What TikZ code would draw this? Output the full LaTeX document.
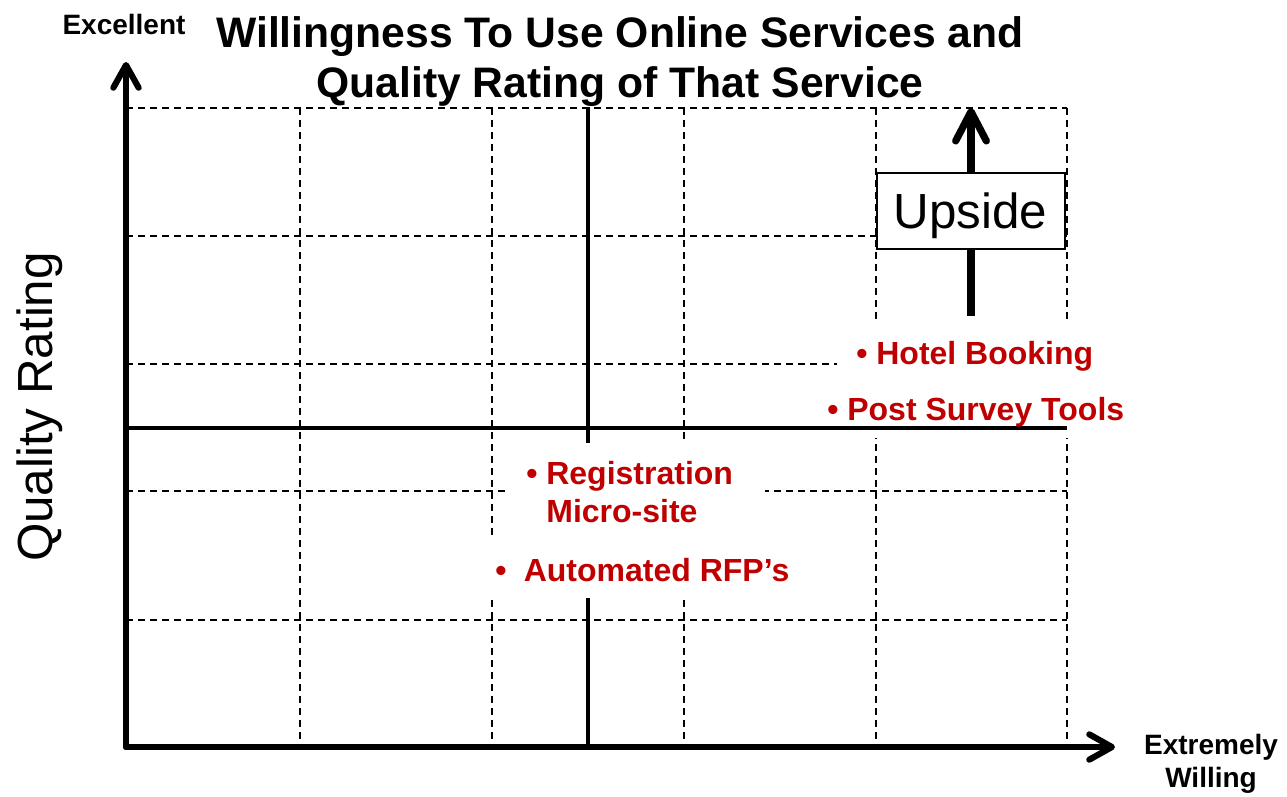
\documentclass[tikz,border=0pt]{standalone}
\usepackage{fontspec}
\setmainfont{Liberation Sans}
\usetikzlibrary{arrows.meta}
\definecolor{labelred}{RGB}{192,0,0}
\begin{document}
\begin{tikzpicture}[x=0.75pt,y=-0.75pt,
  gridline/.style={black, line width=1.1pt, dash pattern=on 5pt off 4pt},
  axisline/.style={line width=4.6pt, line cap=round, line join=round},
  axisarrow/.style={axisline, -{Straight Barb[length=17pt,width=19pt,round]}},
  divider/.style={line width=3.6pt},
  uparrow/.style={line width=5.4pt, -{Straight Barb[length=22pt,width=23pt,round]}},
  whitebg/.style={fill=white},
  itemlabel/.style={text=labelred, font=\fontsize{24}{29}\selectfont\bfseries, inner sep=0pt, anchor=base west},
  axislabel/.style={font=\fontsize{21}{24.75}\selectfont\bfseries, inner sep=0pt, anchor=base},
]
\useasboundingbox (0,0) rectangle (1287,796);

% dashed grid
\foreach \gx in {300,492,684,876,1067}
  \draw[gridline] (\gx,108) -- (\gx,747);
\foreach \gy in {108,236,364,491,620}
  \draw[gridline] (126,\gy) -- (1067,\gy);

% axes
\coordinate (origin) at (126,747);
\coordinate (ytip) at (126,62);
\coordinate (xtip) at (1115,747);
\draw[axisarrow] (origin) -- (ytip);
\draw[axisarrow] (origin) -- (xtip);

% vertical divider
\coordinate (vtop) at (588,107);
\coordinate (vbot) at (588,747);
\draw[divider] (vtop) -- (vbot);

% upside arrow and its box
\coordinate (upbase) at (971,316);
\coordinate (uptop) at (971,108);
\draw[uparrow] (upbase) -- (uptop);
\node[draw=black, line width=1.5pt, fill=white, minimum width=141pt, minimum height=57pt,
      inner sep=0pt, text depth=0pt, font=\fontsize{37}{44}\selectfont] (upside) at (970.5,210.5) {Upside};

% white backgrounds behind the labels
\fill[whitebg] (837,322) rectangle (1115,380);
\fill[whitebg] (808,380) rectangle (1147,438);
\fill[whitebg] (508,443) rectangle (765,538);
\fill[whitebg] (485,538) rectangle (812,598);

% horizontal divider
\coordinate (hleft) at (126,428);
\coordinate (hright) at (1067,428);
\draw[divider] (hleft) -- (hright);

% service labels
\node[itemlabel] (hotel) at (856,364) {• Hotel Booking};
\node[itemlabel] (survey) at (827,420) {• Post Survey Tools};
\node[itemlabel] (registration) at (526,484)
  {\begin{tabular}[t]{@{}l@{}}• Registration\\\phantom{• }Micro-site\end{tabular}};
\node[itemlabel] (rfp) at (495,581) {•\hspace{13pt}Automated RFP’s};

% title and axis labels
\node[inner sep=0pt, anchor=base, font=\fontsize{32}{37.5}\selectfont\bfseries] (title) at (620,47)
  {\begin{tabular}[t]{@{}c@{}}Willingness To Use Online Services and\\Quality Rating of That Service\end{tabular}};
\node[axislabel] (excellent) at (124,34) {Excellent};
\node[axislabel] (willing) at (1211,754)
  {\begin{tabular}[t]{@{}c@{}}Extremely\\Willing\end{tabular}};
\node[inner sep=0pt, anchor=base, rotate=90, font=\fontsize{37}{44}\selectfont] (quality) at (52,407) {Quality Rating};
\end{tikzpicture}
\end{document}
